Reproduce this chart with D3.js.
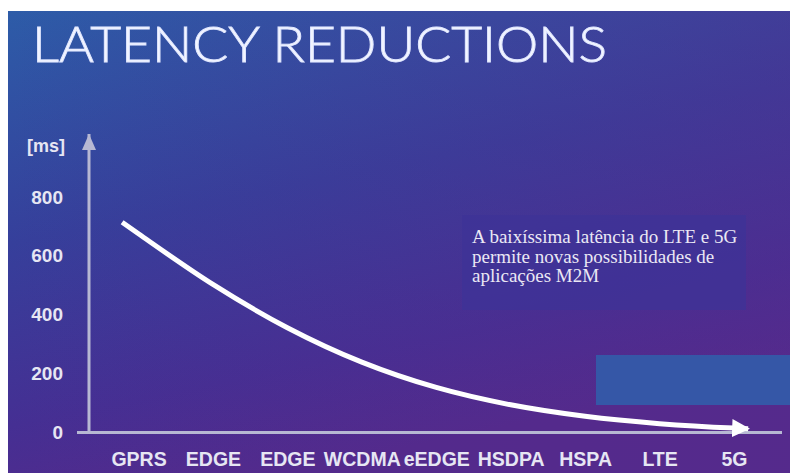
<!DOCTYPE html>
<html>
<head>
<meta charset="utf-8">
<script src="https://cdn.jsdelivr.net/npm/d3@7"></script>
<style>
  html, body { margin: 0; padding: 0; background: #ffffff; }
  svg { display: block; }
</style>
</head>
<body>
<svg id="chart" width="790" height="473"></svg>
<script>
// ---- data ----
const titleText = "LATENCY REDUCTIONS";
const unitLabel = "[ms]";
const categories = ["GPRS", "EDGE", "EDGE", "WCDMA", "eEDGE", "HSDPA", "HSPA", "LTE", "5G"];
const latency = [675, 503, 356, 239, 153, 94, 55, 30, 15];
const curveStartIndex = -0.22, curveStartValue = 714;
const curveEndIndex = 8.19, curveEndValue = 13;
const yTicks = [0, 200, 400, 600, 800];
const noteLines = [
  "A baixíssima latência do LTE e 5G",
  "permite novas possibilidades de",
  "aplicações M2M"
];

// ---- setup ----
const svg = d3.select("#chart");
const W = 790, H = 473;
const defs = svg.append("defs");

const bg = defs.append("linearGradient").attr("id", "bg")
  .attr("x1", 0).attr("y1", 0).attr("x2", 0.35).attr("y2", 1);
bg.append("stop").attr("offset", 0).attr("stop-color", "#2d5ca8");
bg.append("stop").attr("offset", 0.45).attr("stop-color", "#363f9b");
bg.append("stop").attr("offset", 0.8).attr("stop-color", "#452f93");
bg.append("stop").attr("offset", 1).attr("stop-color", "#522a8c");

const bg2 = defs.append("linearGradient").attr("id", "bg2")
  .attr("x1", 0).attr("y1", 0).attr("x2", 1).attr("y2", 0);
bg2.append("stop").attr("offset", 0).attr("stop-color", "#5a2a8c").attr("stop-opacity", 0);
bg2.append("stop").attr("offset", 1).attr("stop-color", "#5a2a8c").attr("stop-opacity", 0.35);

svg.append("rect").attr("x", 0).attr("y", 0).attr("width", W).attr("height", H).attr("fill", "#ffffff");
svg.append("rect").attr("x", 8).attr("y", 11).attr("width", W - 8).attr("height", H - 11).attr("fill", "url(#bg)");
svg.append("rect").attr("x", 8).attr("y", 11).attr("width", W - 8).attr("height", H - 11).attr("fill", "url(#bg2)");

// decorative boxes
svg.append("rect").attr("x", 462).attr("y", 215).attr("width", 284).attr("height", 95)
  .attr("fill", "#3d3397").attr("opacity", 0.75);
svg.append("rect").attr("x", 596).attr("y", 355).attr("width", 194).attr("height", 50)
  .attr("fill", "#3557a7");

// title
svg.append("text")
  .attr("x", 32).attr("y", 62)
  .attr("font-family", "Lato, 'Open Sans', sans-serif")
  .attr("font-weight", 300)
  .attr("font-size", 49)
  .attr("textLength", 575)
  .attr("lengthAdjust", "spacingAndGlyphs")
  .attr("fill", "#f4f6ff")
  .attr("stroke", "#dfe6ff").attr("stroke-width", 0.9)
  .text(titleText);

// ---- scales ----
const x = d3.scaleLinear().domain([0, categories.length - 1]).range([138.5, 734]);
const y = d3.scaleLinear().domain([0, 800]).range([432.5, 197]);

const axisColor = "#b7b8d3";
const labelColor = "#e6e6f3";

// markers
defs.append("marker").attr("id", "arrY")
  .attr("viewBox", "0 0 16 16").attr("refX", 16).attr("refY", 8)
  .attr("markerWidth", 16).attr("markerHeight", 16)
  .attr("markerUnits", "userSpaceOnUse").attr("orient", "auto")
  .append("path").attr("d", "M0,1 L16,8 L0,15 Z").attr("fill", axisColor);

defs.append("marker").attr("id", "arrC")
  .attr("viewBox", "0 0 18 18").attr("refX", 16).attr("refY", 9)
  .attr("markerWidth", 18).attr("markerHeight", 18)
  .attr("markerUnits", "userSpaceOnUse").attr("orient", "auto")
  .append("path").attr("d", "M0,0 L18,9 L0,18 Z").attr("fill", "#ffffff");

// axes lines
svg.append("line")
  .attr("x1", 77).attr("x2", 782).attr("y1", y(0)).attr("y2", y(0))
  .attr("stroke", axisColor).attr("stroke-width", 3);
svg.append("line")
  .attr("x1", 89).attr("x2", 89).attr("y1", y(0) + 1.5).attr("y2", 134)
  .attr("stroke", axisColor).attr("stroke-width", 3)
  .attr("marker-end", "url(#arrY)");

// y tick labels
const yAxis = svg.append("g")
  .attr("transform", "translate(89,0)")
  .call(d3.axisLeft(y).tickValues(yTicks).tickSize(0).tickPadding(26).tickFormat(d3.format("d")));
yAxis.select(".domain").remove();
yAxis.selectAll("text")
  .attr("font-family", "'Liberation Sans', Arial, sans-serif")
  .attr("font-size", 19).attr("font-weight", "bold")
  .attr("fill", labelColor);

svg.append("text")
  .attr("x", 65).attr("y", 152)
  .attr("text-anchor", "end")
  .attr("font-family", "'Liberation Sans', Arial, sans-serif")
  .attr("font-size", 18).attr("font-weight", "bold")
  .attr("fill", labelColor)
  .text(unitLabel);

// x labels
const xAxis = svg.append("g")
  .attr("transform", `translate(0,${y(0)})`)
  .call(d3.axisBottom(x).tickValues(d3.range(categories.length)).tickSize(0).tickFormat(i => categories[i]));
xAxis.select(".domain").remove();
xAxis.selectAll("text")
  .attr("dy", null).attr("y", 33.5)
  .attr("font-family", "'Liberation Sans', Arial, sans-serif")
  .attr("font-size", 19.5).attr("font-weight", "bold")
  .attr("fill", labelColor);

// curve
const pts = [{i: curveStartIndex, v: curveStartValue}]
  .concat(latency.map((v, i) => ({i, v})))
  .concat([{i: curveEndIndex, v: curveEndValue}]);
const line = d3.line().x(d => x(d.i)).y(d => y(d.v)).curve(d3.curveMonotoneX);
svg.append("path")
  .attr("d", line(pts))
  .attr("fill", "none")
  .attr("stroke", "#ffffff")
  .attr("stroke-width", 5)
  .attr("stroke-linecap", "butt")
  .attr("marker-end", "url(#arrC)");

// note
const note = svg.append("text")
  .attr("font-family", "'Liberation Serif', 'Times New Roman', serif")
  .attr("font-size", 19)
  .attr("fill", "#ebe8f4");
noteLines.forEach((t, k) => {
  note.append("tspan").attr("x", 472).attr("y", 243 + k * 19.7).text(t);
});
</script>
</body>
</html>
